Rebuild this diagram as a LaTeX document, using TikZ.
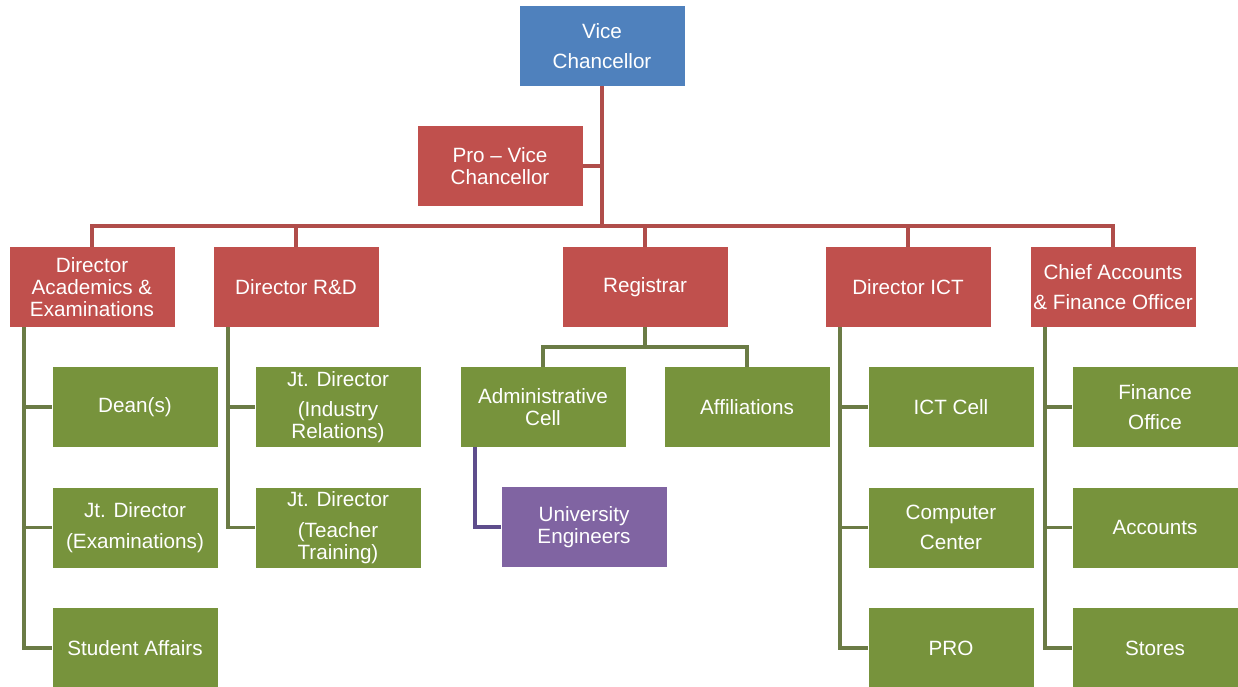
\documentclass[tikz,border=0pt]{standalone}
\usepackage{fontspec}
\setmainfont{Liberation Sans}
\usepackage{tikz}
\usetikzlibrary{positioning,calc}
\definecolor{vcblue}{HTML}{4F81BD}
\definecolor{officered}{HTML}{C0504D}
\definecolor{unitgreen}{HTML}{77933C}
\definecolor{engpurple}{HTML}{8064A2}
\definecolor{redwire}{HTML}{B04D4A}
\definecolor{greenwire}{HTML}{6B7B45}
\definecolor{purplewire}{HTML}{5E4D8C}
\tikzset{
  post/.style = {rectangle, fill=#1, draw=none, text=white, minimum width=123.75pt,
                 minimum height=60pt, inner sep=1pt, align=center,
                 font=\fontsize{15.5}{16.5}\selectfont},
  wire/.style = {draw=#1, line width=2.8pt},
}

\begin{document}
\begin{tikzpicture}[x=0.75pt, y=-0.75pt, node distance=30pt]
  \useasboundingbox (0,0) rectangle (1238,686);
  % top of the tree
  \node[post=vcblue] (vc) at (602,46) {Vice\\[6.5pt]Chancellor};
  \node[post=officered] (pvc) at (500,166) {Pro – Vice\\Chancellor};
  % heads
  \node[post=officered] (dacad) at (92,287) {Director\\Academics \&\\Examinations};
  \node[post=officered] (drd) at (296,287) {Director R\&D};
  \node[post=officered] (reg) at (645,287) {Registrar};
  \node[post=officered] (dict) at (908,287) {Director ICT};
  \node[post=officered] (dcfo) at (1113,287) {Chief Accounts\\[6.5pt]\& Finance Officer};
  % units under each head
  \node[post=unitgreen] (dean) at (135,407) {Dean(s)};
  \node[post=unitgreen, below=of dean] (jdexam) {Jt. Director\\[6.5pt](Examinations)};
  \node[post=unitgreen, below=of jdexam] (student) {Student Affairs};
  \node[post=unitgreen] (jdind) at (338,407) {Jt. Director\\[6.5pt](Industry\\Relations)};
  \node[post=unitgreen, below=of jdind] (jdteach) {Jt. Director\\[6.5pt](Teacher\\Training)};
  \node[post=unitgreen] (admin) at (543,407) {Administrative\\Cell};
  \node[post=unitgreen] (affil) at (747,407) {Affiliations};
  \node[post=engpurple] (uneng) at (584,527) {University\\Engineers};
  \node[post=unitgreen] (ictcell) at (951,407) {ICT Cell};
  \node[post=unitgreen, below=of ictcell] (compctr) {Computer\\[6.5pt]Center};
  \node[post=unitgreen, below=of compctr] (pro) {PRO};
  \node[post=unitgreen] (finoff) at (1155,407) {Finance\\[6.5pt]Office};
  \node[post=unitgreen, below=of finoff] (accounts) {Accounts};
  \node[post=unitgreen, below=of accounts] (stores) {Stores};
  % wiring
  \coordinate (bar) at (602,226);
  \draw[wire=redwire] (vc.south) -- (bar);
  \draw[wire=redwire] (pvc.east) -- (pvc.east -| vc.south);
  \draw[wire=redwire] (dacad.north) |- (bar) -| (dcfo.north);
  \foreach \h in {drd,reg,dict}
    \draw[wire=redwire] (\h.north |- bar) -- (\h.north);
  \foreach \h/\u in {dacad/dean,dacad/jdexam,dacad/student,drd/jdind,drd/jdteach,
                     dict/ictcell,dict/compctr,dict/pro,dcfo/finoff,dcfo/accounts,dcfo/stores}
    \draw[wire=greenwire] ($(\h.south west)+(15,0)$) |- (\u.west);
  \coordinate (rj) at ($(reg.south)+(0,20)$);
  \draw[wire=greenwire] (reg.south) -- (rj);
  \draw[wire=greenwire] (admin.north) |- (rj) -| (affil.north);
  \draw[wire=purplewire] ($(admin.south west)+(15,0)$) |- (uneng.west);
\end{tikzpicture}
\end{document}
